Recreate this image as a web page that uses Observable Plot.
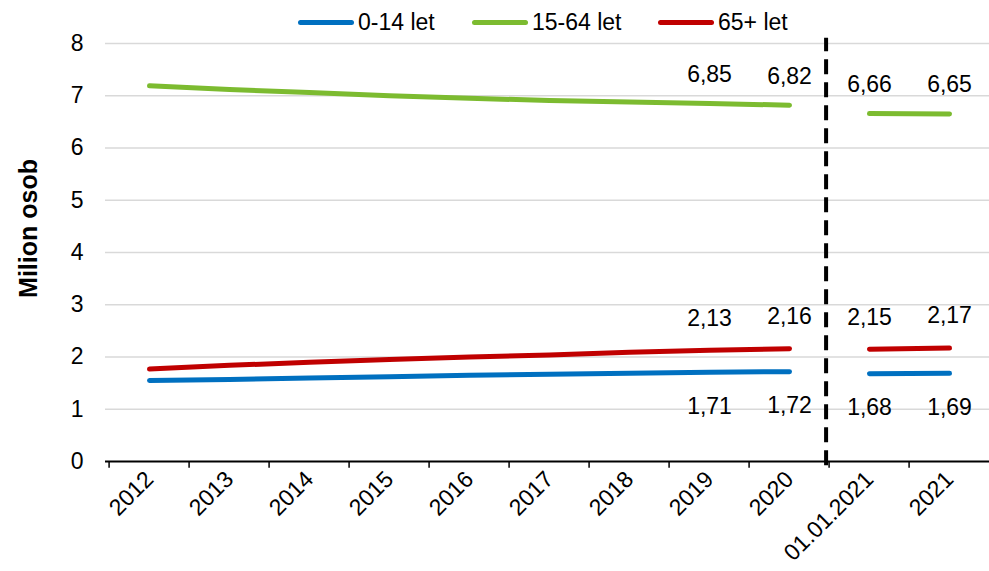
<!DOCTYPE html>
<html><head><meta charset="utf-8">
<script src="https://cdn.jsdelivr.net/npm/d3@7"></script>
<script src="https://cdn.jsdelivr.net/npm/@observablehq/plot@0.6"></script>
<style>
body{margin:0;background:#fff;font-family:"Liberation Sans",Arial,sans-serif;}
#legend{position:relative;height:32px;width:989px;}
.li{position:absolute;top:0;height:32px;display:flex;align-items:center;font-size:23px;color:#000;}
.sw{width:56px;height:5px;border-radius:3px;margin-right:4px;margin-top:12px;}
.li span{margin-top:12px;}
</style></head>
<body>
<div id="legend"></div>
<div id="chart"></div>
<script>
const categories = ["2012","2013","2014","2015","2016","2017","2018","2019","2020","01.01.2021","2021"];
const seriesNames = ["0-14 let","15-64 let","65+ let"];
const seriesColors = ["#0070C0","#7CBB30","#C00000"];
const kids =    [1.55,1.57,1.60,1.62,1.65,1.67,1.69,1.71,1.72,1.68,1.69];
const working = [7.19,7.12,7.06,7.00,6.95,6.91,6.88,6.85,6.82,6.66,6.65];
const seniors = [1.77,1.84,1.90,1.95,2.00,2.04,2.09,2.13,2.16,2.15,2.17];
const labelFrom = 7; // labels shown from 2019 on
const yTicks = [0,1,2,3,4,5,6,7,8];

const seriesValues = [kids, working, seniors];
const rows = [];
seriesValues.forEach((vals, s) => {
  vals.forEach((v, i) => {
    rows.push({cat: categories[i], value: v, series: seriesNames[s], seg: seriesNames[s] + (i >= 9 ? "b" : "a"), idx: i});
  });
});
const labelRows = rows.filter(d => d.idx >= labelFrom);
const fmt = v => v.toFixed(2).replace(".", ",");

// legend
const leg = document.getElementById("legend");
const legX = [298, 472, 658];
seriesNames.forEach((n, i) => {
  const el = document.createElement("div");
  el.className = "li";
  el.style.left = legX[i] + "px";
  el.innerHTML = `<div class="sw" style="background:${seriesColors[i]}"></div><span>${n}</span>`;
  leg.appendChild(el);
});

const step = 889 / 11;
const chart = Plot.plot({
  width: 989,
  height: 539,
  marginTop: 11,
  marginBottom: 110,
  marginLeft: 105,
  marginRight: 0,
  style: {fontFamily: "Liberation Sans, Arial, sans-serif", fontSize: "23px", color: "#000", background: "#fff", overflow: "visible"},
  x: {type: "point", domain: categories, range: [104, 993], padding: 0.5},
  y: {domain: [0, 8]},
  color: {domain: seriesNames, range: seriesColors},
  marks: [
    Plot.gridY(yTicks.filter(t => t > 0), {stroke: "#d9d9d9", strokeOpacity: 1, strokeWidth: 1.5}),
    Plot.axisY({ticks: yTicks, tickSize: 0, tickPadding: 22, label: null, fontSize: 23}),
    Plot.axisX({tickSize: 0, tickRotate: -45, tickPadding: 14, label: null, fontSize: 23}),
    Plot.ruleX(categories, {x: d => d, dx: -step/2, y1: 0, y2: -0.13, stroke: "#000", strokeWidth: 1.5}),
    Plot.ruleY([0], {stroke: "#000", strokeWidth: 2}),
    Plot.ruleX(["01.01.2021"], {dx: -step/2 - 3, y1: -0.08, y2: 8.1, stroke: "#000", strokeWidth: 4, strokeDasharray: "15,8"}),
    Plot.line(rows, {x: "cat", y: "value", z: "seg", stroke: "series", strokeWidth: 5, strokeLinecap: "round", strokeLinejoin: "round"}),
    Plot.text(labelRows.filter(d => d.series === "15-64 let"), {x: "cat", y: "value", text: d => fmt(d.value), dy: -29, fontSize: 23, fill: "#000"}),
    Plot.text(labelRows.filter(d => d.series === "65+ let"), {x: "cat", y: "value", text: d => fmt(d.value), dy: -32, fontSize: 23, fill: "#000"}),
    Plot.text(labelRows.filter(d => d.series === "0-14 let"), {x: "cat", y: "value", text: d => fmt(d.value), dy: 34, fontSize: 23, fill: "#000"}),
    Plot.text(["Milion osob"], {frameAnchor: "left", textAnchor: "middle", dx: -77, dy: -24, rotate: -90, text: d => d, fontSize: 25, fontWeight: "bold", fill: "#000"})
  ]
});
document.getElementById("chart").appendChild(chart);
</script>
</body></html>
